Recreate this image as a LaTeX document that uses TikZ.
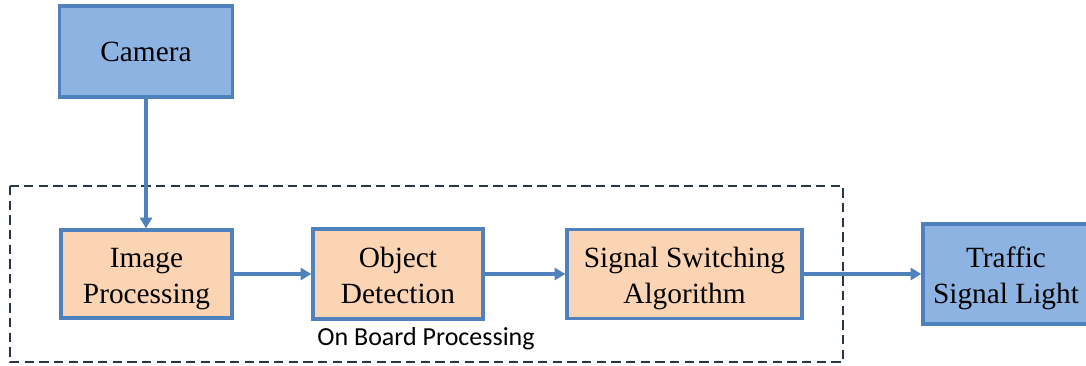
\documentclass[tikz,border=0pt]{standalone}
\usepackage{fontspec}
\setmainfont{Liberation Serif}
\newfontfamily\boardfont{Carlito}
\usetikzlibrary{arrows.meta}
\definecolor{edgeblue}{HTML}{4F81BD}
\definecolor{boxblue}{HTML}{8DB3E2}
\definecolor{boxpeach}{HTML}{FBD4B4}
\definecolor{dashgray}{HTML}{2A3647}
\tikzset{
  bluebox/.style={draw=edgeblue,fill=boxblue,line width=2.5pt,align=center,
    font=\fontsize{22}{27}\selectfont,inner sep=0pt},
  peachbox/.style={bluebox,fill=boxpeach},
  twolines/.style={text height=48pt,text depth=3.5pt},
  flow/.style={draw=edgeblue,line width=2.4pt,-{Triangle[length=8pt,width=9pt]}}
}
\begin{document}
\begin{tikzpicture}[x=0.75pt,y=-0.75pt]
\useasboundingbox (0,0) rectangle (1086,365);
\draw[dashgray,line width=1.6pt,dash pattern=on 7pt off 4pt] (10,186) rectangle (843,362);
\node[bluebox,minimum width=173*0.75pt,minimum height=91*0.75pt] (cam) at (146,51.5) {Camera};
\node[peachbox,twolines,minimum width=171*0.75pt,minimum height=88*0.75pt] (imgp) at (146.5,274) {Image\\Processing};
\node[peachbox,twolines,minimum width=170*0.75pt,minimum height=90*0.75pt] (objd) at (398,274) {Object\\Detection};
\node[peachbox,twolines,minimum width=235*0.75pt,minimum height=89*0.75pt] (sigsw) at (684.5,274) {Signal Switching\\Algorithm};
\node[bluebox,twolines,minimum width=166*0.75pt,minimum height=100*0.75pt] (light) at (1006,274) {Traffic\\Signal Light};
\node[font=\boardfont\fontsize{19.5}{22}\selectfont] (board) at (426,339) {On Board Processing};
\draw[flow] (cam.south) -- (cam.south |- imgp.north);
\draw[flow] (imgp) -- (objd);
\draw[flow] (objd) -- (sigsw);
\draw[flow] (sigsw) -- (light);
\end{tikzpicture}
\end{document}
